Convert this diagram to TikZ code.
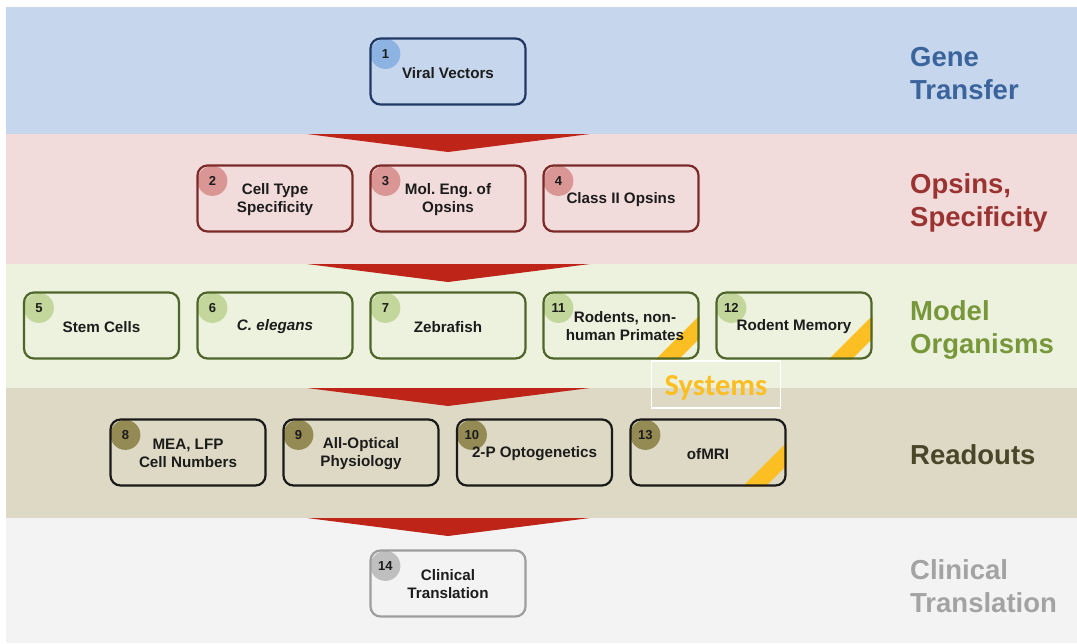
\documentclass[tikz,border=0pt]{standalone}
\usepackage{fontspec}
\setmainfont{Liberation Sans}
\newfontfamily\sysfont{Carlito}
\frenchspacing
\usetikzlibrary{calc}
\pgfdeclarelayer{back}
\pgfdeclarelayer{mid}
\pgfsetlayers{back,mid,main}
\definecolor{bandA}{HTML}{C6D7ED}
\definecolor{bandB}{HTML}{F2DCDB}
\definecolor{bandC}{HTML}{EDF2DF}
\definecolor{bandD}{HTML}{DDD9C4}
\definecolor{bandE}{HTML}{F3F3F3}
\definecolor{arrowred}{HTML}{BF2418}
\definecolor{labA}{HTML}{3A649B}
\definecolor{labB}{HTML}{9A3432}
\definecolor{labC}{HTML}{77973A}
\definecolor{labD}{HTML}{4B4629}
\definecolor{labE}{HTML}{A3A3A3}
\definecolor{brdA}{HTML}{1F3864}
\definecolor{brdB}{HTML}{7B2A28}
\definecolor{brdC}{HTML}{50652A}
\definecolor{brdD}{HTML}{1A1A1A}
\definecolor{brdE}{HTML}{9E9E9E}
\definecolor{cirA}{HTML}{8DB3E2}
\definecolor{cirB}{HTML}{D99694}
\definecolor{cirC}{HTML}{C3D69B}
\definecolor{cirD}{HTML}{948A54}
\definecolor{cirE}{HTML}{BFBFBF}
\definecolor{sysyellow}{HTML}{FBBF24}
\definecolor{txt}{HTML}{1C1C1C}
\tikzset{
  box/.style={draw, line width=2.2pt, rounded corners=10pt, minimum width=155pt,
    minimum height=66pt, inner sep=0pt},
  boxtext/.style={align=center, inner sep=0pt, text=txt,
    font=\fontsize{15.2}{18}\selectfont\bfseries},
  numc/.style={circle, minimum size=30pt, inner sep=0pt, text=txt,
    font=\fontsize{13}{13}\selectfont\bfseries},
  bandlabel/.style={anchor=west, align=left, inner sep=0pt,
    font=\fontsize{27.5}{33}\selectfont\bfseries},
  downarrow/.style={fill=arrowred},
  stripe/.style={fill=sysyellow}
}
\begin{document}
\begin{tikzpicture}[x=1pt,y=-1pt]
\useasboundingbox (0,0) rectangle (1077,643);
% boxes
\node[box, draw=brdA] (b1) at (448,71.5) {};
\node[box, draw=brdB] (b2) at (275,198.5) {};
\node[box, draw=brdB] (b3) at (448,198.5) {};
\node[box, draw=brdB] (b4) at (621,198.5) {};
\node[box, draw=brdC] (b5) at (101.5,325.5) {};
\node[box, draw=brdC] (b6) at (275,325.5) {};
\node[box, draw=brdC] (b7) at (448,325.5) {};
\node[box, draw=brdC] (b11) at (621,325.5) {};
\node[box, draw=brdC] (b12) at (794,325.5) {};
\node[box, draw=brdD] (b8) at (188,452.5) {};
\node[box, draw=brdD] (b9) at (361,452.5) {};
\node[box, draw=brdD] (b10) at (534.5,452.5) {};
\node[box, draw=brdD] (b13) at (708,452.5) {};
\node[box, draw=brdE] (b14) at (448,583.5) {};
% box texts
\node[boxtext] (t1) at ($(b1)+(0,2)$) {Viral Vectors};
\node[boxtext] (t2) at ($(b2)+(0,1)$) {Cell Type\\Specificity};
\node[boxtext] (t3) at ($(b3)+(0,1)$) {Mol. Eng. of\\Opsins};
\node[boxtext] (t4) at ($(b4)+(0,1.5)$) {Class II Opsins};
\node[boxtext] (t5) at ($(b5)+(0,1.5)$) {Stem Cells};
\node[boxtext] (t6) at ($(b6)+(0,1.5)$) {\itshape C. elegans};
\node[boxtext] (t7) at ($(b7)+(0,1.5)$) {Zebrafish};
\node[boxtext] (t11) at ($(b11)+(4,1)$) {Rodents, non-\\human Primates};
\node[boxtext] (t12) at ($(b12)+(0,1.5)$) {Rodent Memory};
\node[boxtext] (t8) at ($(b8)+(0,1)$) {MEA, LFP\\Cell Numbers};
\node[boxtext] (t9) at ($(b9)+(0,1)$) {All-Optical\\Physiology};
\node[boxtext] (t10) at ($(b10)+(0,1.5)$) {2-P Optogenetics};
\node[boxtext] (t13) at ($(b13)+(0,1.5)$) {ofMRI};
\node[boxtext] (t14) at ($(b14)+(0,1)$) {Clinical\\Translation};
% systems label
\node[draw=white, line width=1.5pt, minimum width=129pt, minimum height=47pt,
  inner sep=0pt, text height=22.6pt, text depth=0pt, text=sysyellow,
  font=\sysfont\fontsize{30.5}{30.5}\selectfont\bfseries]
  (sys) at (716,384.5) {Systems};
% band labels
\node[bandlabel, text=labA] (lA) at (910,73.5) {Gene\\Transfer};
\node[bandlabel, text=labB] (lB) at (910,203) {Opsins,\\Specificity};
\node[bandlabel, text=labC] (lC) at (910,329.5) {Model\\Organisms};
\node[bandlabel, text=labD] (lD) at (910,455) {Readouts};
\node[bandlabel, text=labE] (lE) at (910,586) {Clinical\\Translation};
% bands and arrows
\begin{pgfonlayer}{back}
  \fill[bandA] (6,7) rectangle (1077,134);
  \fill[bandB] (6,134) rectangle (1077,264);
  \fill[bandC] (6,264) rectangle (1077,388);
  \fill[bandD] (6,388) rectangle (1077,518);
  \fill[bandE] (6,518) rectangle (1077,643);
  \fill[downarrow] (307,134) -- (590,134) -- (448,152) -- cycle;
  \fill[downarrow] (307,264) -- (590,264) -- (448,282) -- cycle;
  \fill[downarrow] (307,388) -- (590,388) -- (448,406) -- cycle;
  \fill[downarrow] (307,518) -- (590,518) -- (448,536) -- cycle;
\end{pgfonlayer}
% number circles and stripes
\begin{pgfonlayer}{mid}
  \foreach \b/\n/\c in {b1/1/cirA, b2/2/cirB, b3/3/cirB, b4/4/cirB,
      b5/5/cirC, b6/6/cirC, b7/7/cirC, b11/11/cirC, b12/12/cirC,
      b8/8/cirD, b9/9/cirD, b10/10/cirD, b13/13/cirD, b14/14/cirE}{
    \node[numc, fill=\c] (n\n) at ($(\b.north west)+(16,16.5)$) {\n};
  }
  \foreach \b in {b11, b12, b13}{
    \begin{scope}
      \clip[rounded corners=10pt] (\b.south west) rectangle (\b.north east);
      \fill[stripe] ($(\b.south east)+(-47,3)$) -- ($(\b.south east)+(-24,3)$)
        -- ($(\b.south east)+(3,-24)$) -- ($(\b.south east)+(3,-47)$) -- cycle;
    \end{scope}
  }
\end{pgfonlayer}
\end{tikzpicture}
\end{document}
